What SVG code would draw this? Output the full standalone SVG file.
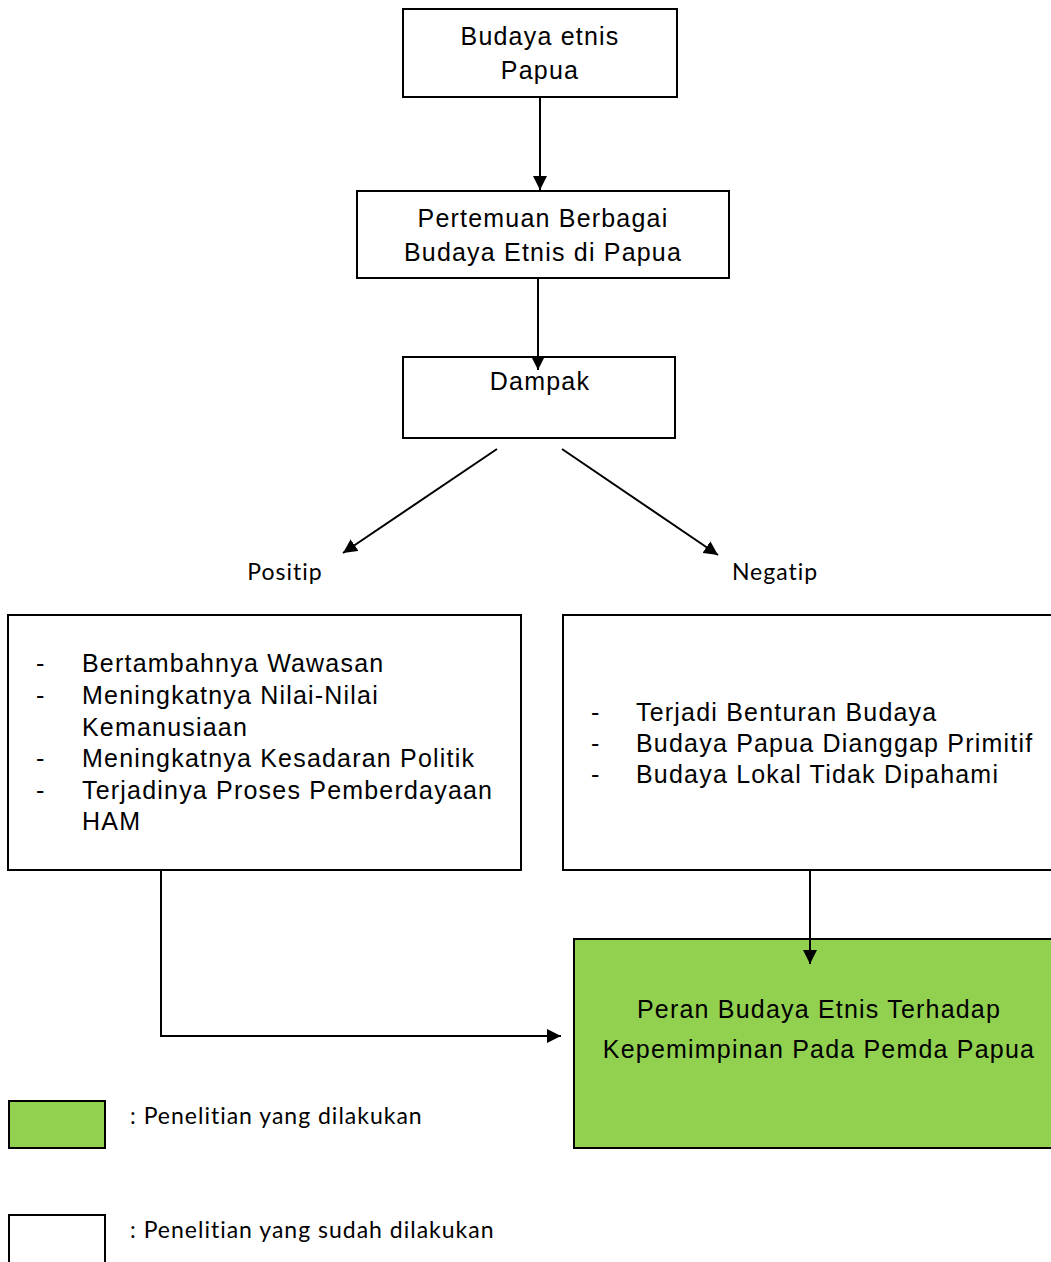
<svg xmlns="http://www.w3.org/2000/svg" width="1051" height="1262" viewBox="0 0 1051 1262">
<defs>
<style>
.box{fill:#fff;stroke:#000;stroke-width:2}
.green{fill:#92D050;stroke:#000;stroke-width:2}
.t{font-family:"Liberation Sans",Arial,sans-serif;font-size:25px;letter-spacing:1.2px;fill:#000}
.c{text-anchor:middle}
.s{font-family:Lato,"Open Sans",sans-serif;font-size:23px;letter-spacing:1px;fill:#000}
.ln{stroke:#000;stroke-width:2;fill:none}
</style>
<marker id="ahb" viewBox="0 0 10 10" refX="10" refY="5" markerWidth="14" markerHeight="14" markerUnits="userSpaceOnUse" orient="auto">
<path d="M0,0 L10,5 L0,10 z" fill="#000"/>
</marker>
</defs>
<rect width="1051" height="1262" fill="#fff"/>
<g id="node-budaya">
<rect class="box" x="403" y="9" width="274" height="88"/>
<text class="t c" x="540" y="45">Budaya etnis</text>
<text class="t c" x="540" y="79">Papua</text>
</g>
<g id="node-pertemuan">
<rect class="box" x="357" y="191" width="372" height="87"/>
<text class="t c" x="543" y="227">Pertemuan Berbagai</text>
<text class="t c" x="543" y="261">Budaya Etnis di Papua</text>
</g>
<g id="node-dampak">
<rect class="box" x="403" y="357" width="272" height="81"/>
<text class="t c" x="540" y="390">Dampak</text>
</g>
<g id="label-positip">
<text class="s c" x="285" y="580">Positip</text>
</g>
<g id="label-negatip">
<text class="s c" x="775" y="580">Negatip</text>
</g>
<g id="node-positif">
<rect class="box" x="8" y="615" width="513" height="255"/>
<text class="t" x="36" y="672">-</text><text class="t" x="82" y="672">Bertambahnya Wawasan</text>
<text class="t" x="36" y="704">-</text><text class="t" x="82" y="704">Meningkatnya Nilai-Nilai</text>
<text class="t" x="82" y="736">Kemanusiaan</text>
<text class="t" x="36" y="767">-</text><text class="t" x="82" y="767">Meningkatnya Kesadaran Politik</text>
<text class="t" x="36" y="799">-</text><text class="t" x="82" y="799">Terjadinya Proses Pemberdayaan</text>
<text class="t" x="82" y="830">HAM</text>
</g>
<g id="node-negatif">
<rect class="box" x="563" y="615" width="500" height="255"/>
<text class="t" x="591" y="721">-</text><text class="t" x="636" y="721">Terjadi Benturan Budaya</text>
<text class="t" x="591" y="752">-</text><text class="t" x="636" y="752">Budaya Papua Dianggap Primitif</text>
<text class="t" x="591" y="783">-</text><text class="t" x="636" y="783">Budaya Lokal Tidak Dipahami</text>
</g>
<g id="node-peran">
<rect class="green" x="574" y="939" width="490" height="209"/>
<text class="t c" x="819" y="1018">Peran Budaya Etnis Terhadap</text>
<text class="t c" x="819" y="1058">Kepemimpinan Pada Pemda Papua</text>
</g>
<g id="legend">
<rect class="green" x="9" y="1101" width="96" height="47"/>
<text class="s" x="130" y="1124">: Penelitian yang dilakukan</text>
<rect class="box" x="9" y="1215" width="96" height="60"/>
<text class="s" x="130" y="1238">: Penelitian yang sudah dilakukan</text>
</g>
<g id="connectors">
<line class="ln" x1="540" y1="97" x2="540" y2="190" marker-end="url(#ahb)"/>
<line class="ln" x1="538" y1="278" x2="538" y2="370" marker-end="url(#ahb)"/>
<line class="ln" x1="497" y1="449" x2="343" y2="553" marker-end="url(#ahb)"/>
<line class="ln" x1="562" y1="449" x2="718" y2="555" marker-end="url(#ahb)"/>
<line class="ln" x1="810" y1="870" x2="810" y2="964" marker-end="url(#ahb)"/>
<polyline class="ln" points="161,870 161,1036 561,1036" marker-end="url(#ahb)"/>
</g>
</svg>
